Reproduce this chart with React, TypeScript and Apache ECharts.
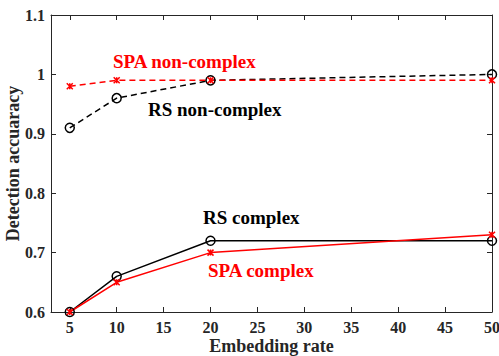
import React, { useEffect, useRef } from "react";
import * as echarts from "echarts";

const rates = [5, 10, 20, 50];
const rsNonComplex = [0.91, 0.96, 0.99, 1.0];
const spaNonComplex = [0.98, 0.99, 0.99, 0.99];
const rsComplex = [0.6, 0.66, 0.72, 0.72];
const spaComplex = [0.6, 0.65, 0.7, 0.73];
const xTicks = [5, 10, 15, 20, 25, 30, 35, 40, 45, 50];

const FONT = "'Liberation Serif', 'Times New Roman', serif";
const AXIS_COLOR = "#262626";
const X_SYMBOL = "path://M0,0L10,10M10,0L0,10M5,0L5,10";

function pairs(ys: number[]) {
  return rates.map((x, i) => [x, ys[i]]);
}

export default function App() {
  const ref = useRef<HTMLDivElement>(null);
  useEffect(() => {
    if (!ref.current) return;
    const chart = echarts.init(ref.current, undefined, { renderer: "svg" });
    const baseX = {
      type: "value" as const,
      min: 3,
      max: 50,
      splitLine: { show: false },
      axisLine: { show: true, onZero: false, lineStyle: { color: AXIS_COLOR, width: 1 } },
      axisTick: { show: true, inside: true, length: 5, customValues: xTicks, lineStyle: { color: AXIS_COLOR } },
    };
    const baseY = {
      type: "value" as const,
      min: 0.6,
      max: 1.1,
      interval: 0.1,
      splitLine: { show: false },
      axisLine: { show: true, onZero: false, lineStyle: { color: AXIS_COLOR, width: 1 } },
      axisTick: { show: true, inside: true, length: 5, lineStyle: { color: AXIS_COLOR } },
    };
    const labelStyle = { fontFamily: FONT, fontWeight: "bold" as const, fontSize: 16, color: AXIS_COLOR };
    const lineSeries = (name: string, data: number[], color: string, dashed: boolean, symbol: string, size: number) => ({
      name,
      type: "line" as const,
      data: pairs(data),
      xAxisIndex: 0,
      yAxisIndex: 0,
      symbol,
      symbolSize: size,
      showAllSymbol: true,
      lineStyle: { color, width: 1.5, type: dashed ? ([6, 4] as any) : "solid" },
      itemStyle: { color: symbol === "circle" ? "rgba(0,0,0,0)" : color, borderColor: color, borderWidth: 1.5 },
      emphasis: { disabled: true },
    });
    chart.setOption({
      animation: false,
      grid: { left: 51, right: 7, top: 15, bottom: 44, containLabel: false, outerBoundsMode: "none" },
      xAxis: [
        {
          ...baseX,
          position: "bottom",
          name: "Embedding rate",
          nameLocation: "middle",
          nameGap: 25,
          nameMoveOverlap: false,
          nameTextStyle: { ...labelStyle, fontSize: 18 },
          axisLabel: { ...labelStyle, margin: 7, customValues: xTicks },
        },
        {
          ...baseX,
          position: "top",
          axisLabel: { show: false },
        },
      ],
      yAxis: [
        {
          ...baseY,
          position: "left",
          name: "Detection accuaracy",
          nameLocation: "middle",
          nameGap: 29,
          nameMoveOverlap: false,
          nameTextStyle: { ...labelStyle, fontSize: 18 },
          axisLabel: { ...labelStyle, margin: 6 },
        },
        {
          ...baseY,
          position: "right",
          axisLabel: { show: false },
        },
      ],
      series: [
        lineSeries("RS non-complex", rsNonComplex, "#000000", true, "circle", 9),
        lineSeries("SPA non-complex", spaNonComplex, "#ff0000", true, X_SYMBOL, 6),
        lineSeries("RS complex", rsComplex, "#000000", false, "circle", 9),
        lineSeries("SPA complex", spaComplex, "#ff0000", false, X_SYMBOL, 6),
      ],
      graphic: [
        { type: "text", left: 113, top: 52, style: { text: "SPA non-complex", fill: "#ff0000", font: `bold 19px ${FONT}` } },
        { type: "text", left: 148, top: 100, style: { text: "RS non-complex", fill: "#000000", font: `bold 19px ${FONT}` } },
        { type: "text", left: 203, top: 208, style: { text: "RS complex", fill: "#000000", font: `bold 19px ${FONT}` } },
        { type: "text", left: 208, top: 261, style: { text: "SPA complex", fill: "#ff0000", font: `bold 19px ${FONT}` } },
      ],
    });
    return () => chart.dispose();
  }, []);
  return <div ref={ref} style={{ width: 499, height: 356, position: "absolute", left: 0, top: 0, background: "#fff" }} />;
}
